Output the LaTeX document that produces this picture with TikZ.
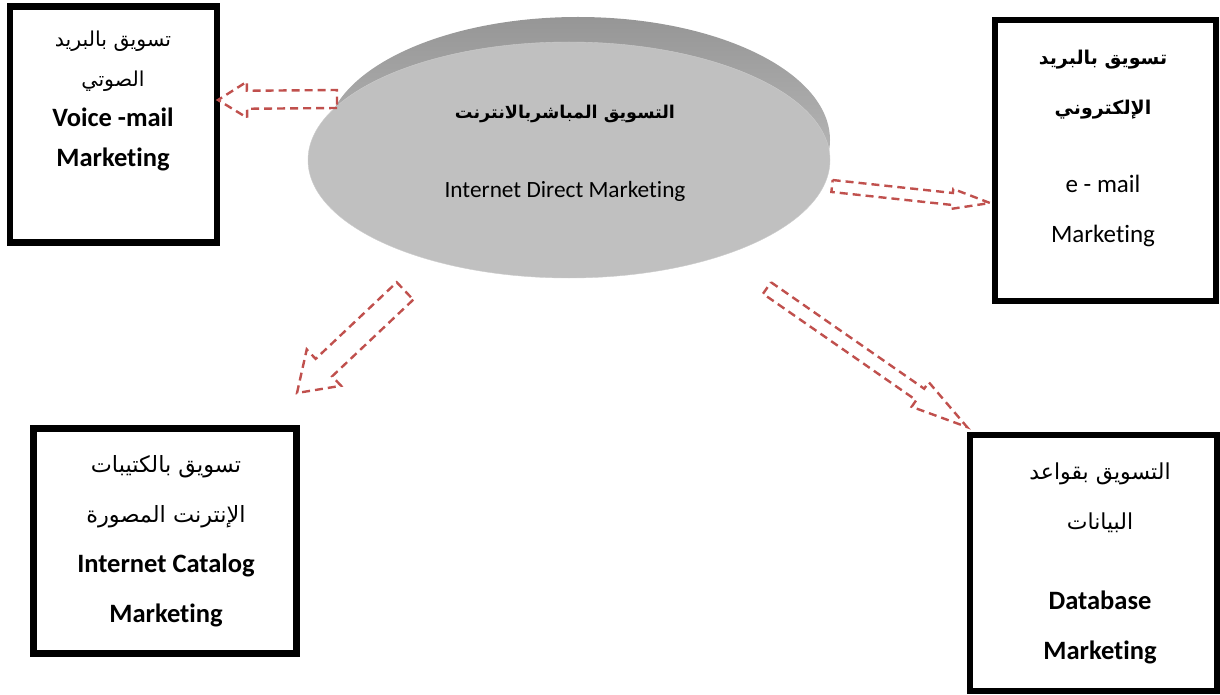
\documentclass[tikz,border=0pt]{standalone}
\usepackage{fontspec}
\setmainfont{Carlito}[Ligatures=CommonOff]
\newfontfamily\arabicfont[Script=Arabic]{DejaVu Sans}
\TeXXeTstate=1
\definecolor{arrred}{RGB}{192,80,77}
\definecolor{facegray}{RGB}{192,192,192}
\definecolor{rimdark}{RGB}{150,150,150}
\definecolor{rimlight}{RGB}{205,205,205}
\usetikzlibrary{calc,shapes.geometric,positioning}
% arabic line, size as optional argument
\newcommand{\artxt}[2][21.5]{{\arabicfont\fontsize{#1}{20}\selectfont\beginR #2\endR}}
\newcommand{\bltxt}[1]{{\bfseries\fontsize{26.5}{20}\selectfont #1}}
% hollow block arrow: tail, tip, shaft half width, head half width, head length
\newcommand{\hollowarrow}[5]{%
  \coordinate (hb) at ($(#2)!#5!(#1)$);
  \draw[dasharrow] ($(#1)!#3!90:(#2)$) -- ($(hb)!#3!90:(#2)$) -- ($(hb)!#4!90:(#2)$) -- (#2)
    -- ($(hb)!#4!-90:(#2)$) -- ($(hb)!#3!-90:(#2)$) -- ($(#1)!#3!-90:(#2)$) -- cycle;
}
\tikzset{
  mbox/.style={draw=black, line width=6.5pt, fill=white, inner sep=0pt},
  btxt/.style={align=center, font=\fontsize{25}{50}\selectfont},
  dasharrow/.style={draw=arrred, line width=2.4pt, dash pattern=on 8pt off 5pt},
  face/.style={ellipse, fill=facegray, draw=gray!40, inner sep=0pt,
    minimum width=522pt, minimum height=236pt}
}

\begin{document}
\begin{tikzpicture}[x=1pt, y=-1pt]
  \useasboundingbox (0,0) rectangle (1220,695);

  % Centre disc
  \shade[top color=rimdark, bottom color=rimlight] (578,140) ellipse [x radius=252pt, y radius=123pt];
  \node[face] (idm) at (569,160) {};
  \node[btxt, font=\fontsize{23.3}{79}\selectfont] (idmtxt) at (565,153)
    {{\bfseries\artxt[17.6]{التسويق المباشربالانترنت}}\\Internet Direct Marketing};

  % Boxes
  \node[mbox, minimum width=207pt, minimum height=236pt] (voice) at (113.5,124.5) {};
  \node[btxt] (voicetxt) at (113,101)
    {\artxt[20.5]{تسويق بالبريد}\\[-10pt]\artxt[20.5]{الصوتي}\\[-10pt]\bltxt{Voice -mail}\\[-10pt]\bltxt{Marketing}};

  \node[mbox, minimum width=221pt, minimum height=281pt] (email) at (1105.5,160.5) {};
  \node[btxt] (emailtxt) at (1103,148)
    {{\bfseries\artxt[19]{تسويق بالبريد}}\\{\bfseries\artxt[19]{الإلكتروني}}\\[28pt]e - mail\\Marketing};

  \node[mbox, minimum width=263pt, minimum height=225pt] (catalog) at (165,541) {};
  \node[btxt] (catalogtxt) at (166,541)
    {\artxt[22.4]{تسويق بالكتيبات}\\\artxt[22.4]{الإنترنت المصورة}\\\bltxt{Internet Catalog}\\\bltxt{Marketing}};

  \node[mbox, minimum width=247pt, minimum height=256pt] (dbase) at (1093.5,563) {};
  \node[btxt] (dbasetxt) at (1100,563)
    {\artxt[22]{التسويق بقواعد}\\\artxt[22]{البيانات}\\[30pt]\bltxt{Database}\\\bltxt{Marketing}};

  % Arrows
  \coordinate (a1tail) at (337,99);  \coordinate (a1tip) at (218,100);
  \coordinate (a2tail) at (832,186); \coordinate (a2tip) at (990,203);
  \coordinate (a3tail) at (405,291); \coordinate (a3tip) at (297,393);
  \coordinate (a4tail) at (767,288); \coordinate (a4tip) at (967,427);
  \hollowarrow{a1tail}{a1tip}{9pt}{18pt}{29pt}
  \hollowarrow{a2tail}{a2tip}{6pt}{10pt}{38pt}
  \hollowarrow{a3tail}{a3tip}{12pt}{25pt}{37pt}
  \hollowarrow{a4tail}{a4tip}{7pt}{15pt}{57pt}
\end{tikzpicture}
\end{document}
